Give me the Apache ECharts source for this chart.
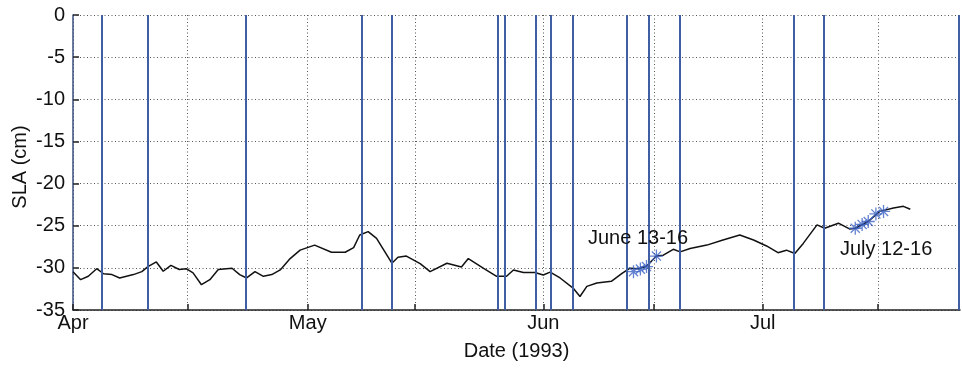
<!DOCTYPE html>
<html>
<head>
<meta charset="utf-8">
<script src="https://cdn.jsdelivr.net/npm/echarts@6/dist/echarts.min.js"></script>
<style>
html,body{margin:0;padding:0;background:#fff;}
#chart{width:962px;height:368px;}
</style>
</head>
<body>
<div id="chart"></div>
<script>
// x = days since 1 April 1993
const tickDays = [0, 15, 30.7, 44.7, 61.5, 76, 90.2, 105.3];
const tickLabels = ['Apr', '', 'May', '', 'Jun', '', 'Jul', ''];
const yTicks = [0, -5, -10, -15, -20, -25, -30, -35];

const slaDays = [0.0,1.0,2.0,3.1,4.0,5.1,6.1,7.0,7.9,9.0,9.8,10.9,11.8,12.8,13.9,14.8,15.7,16.8,17.9,19.0,20.8,21.8,22.7,23.8,24.9,26.0,27.1,28.4,29.7,31.6,33.8,35.6,36.7,37.5,38.6,39.7,41.7,42.5,43.6,45.4,46.7,48.9,50.8,51.7,53.7,55.4,56.7,57.6,58.9,60.4,61.5,62.4,63.7,65.4,66.3,67.2,68.5,70.4,71.8,72.8,74.0,75.0,76.3,77.2,78.5,79.4,80.7,82.9,85.0,87.2,89.0,90.7,92.2,93.3,94.4,95.5,97.3,98.3,100.1,101.6,102.3,104.0,105.5,107.3,108.6,109.5];
const slaValues = [-30.45,-31.4,-31.0,-30.1,-30.7,-30.8,-31.2,-31.0,-30.8,-30.45,-29.85,-29.3,-30.4,-29.7,-30.2,-30.1,-30.6,-32.0,-31.4,-30.2,-30.05,-30.8,-31.2,-30.45,-31.0,-30.8,-30.25,-28.9,-27.9,-27.3,-28.15,-28.15,-27.6,-26.1,-25.7,-26.5,-29.45,-28.75,-28.6,-29.5,-30.45,-29.45,-29.9,-28.9,-30.05,-31.0,-31.0,-30.25,-30.55,-30.55,-30.85,-30.5,-31.2,-32.4,-33.4,-32.2,-31.8,-31.6,-30.65,-30.05,-30.1,-29.8,-28.6,-28.5,-27.8,-28.1,-27.7,-27.3,-26.7,-26.1,-26.7,-27.4,-28.2,-27.9,-28.3,-27.1,-24.9,-25.3,-24.7,-25.4,-25.3,-24.5,-23.3,-22.9,-22.7,-23.05];

const juneDays = [73.3, 74.2, 75.0, 76.3];
const juneValues = [-30.45, -30.15, -29.85, -28.6];
const julyDays = [102.3, 103.2, 104.0, 105.0, 106.0];
const julyValues = [-25.3, -24.85, -24.5, -23.6, -23.3];

const eventDays = [3.8, 9.8, 22.6, 37.7, 41.7, 55.6, 56.5, 60.5, 62.5, 65.4, 72.4, 75.3, 79.4, 94.3, 98.2, 115.8];

const FONT = "'Liberation Sans', Arial, sans-serif";
const BLUE = '#3f5ea3';
const STAR = 'path://M-10,-1L10,-1L10,1L-10,1ZM-1,-10L1,-10L1,10L-1,10ZM-6.3,-7.7L7.7,6.3L6.3,7.7L-7.7,-6.3ZM-7.7,6.3L6.3,-7.7L7.7,-6.3L-6.3,7.7Z';

const zip = (a, b) => a.map((v, i) => [v, b[i]]);

const chart = echarts.init(document.getElementById('chart'), null, {renderer: 'canvas'});
chart.setOption({
  animation: false,
  backgroundColor: '#fff',
  grid: {left: 73, right: 2, top: 15, bottom: 58, containLabel: false},
  xAxis: {
    type: 'value', min: 0, max: 116,
    name: 'Date (1993)', nameLocation: 'middle', nameGap: 31,
    nameTextStyle: {fontFamily: FONT, fontSize: 20, color: '#111'},
    axisLine: {show: true, onZero: false, lineStyle: {color: '#222', width: 1.5}},
    axisTick: {show: true, inside: true, length: 6, customValues: tickDays, lineStyle: {color: '#222', width: 1.5}},
    axisLabel: {
      customValues: tickDays, margin: 3, fontFamily: FONT, fontSize: 20, color: '#111',
      formatter: v => { const i = tickDays.indexOf(v); return i >= 0 ? tickLabels[i] : ''; }
    },
    splitLine: {show: true, lineStyle: {color: '#555', width: 1, type: [1, 2.5]}}
  },
  yAxis: {
    type: 'value', min: -35, max: 0, interval: 5,
    axisLine: {show: true, onZero: false, lineStyle: {color: '#3a4f80', width: 1.5}},
    axisTick: {show: true, inside: true, length: 6, lineStyle: {color: '#222', width: 1.5}},
    axisLabel: {
      margin: 8, fontFamily: FONT, fontSize: 20, color: '#111',
      formatter: v => (yTicks.indexOf(v) >= 0 ? String(v) : '')
    },
    splitLine: {show: true, lineStyle: {color: '#555', width: 1, type: [1, 2.5]}}
  },
  series: [
    {
      type: 'line', data: [], silent: true, z: 1,
      markLine: {
        silent: true, symbol: ['none', 'none'], animation: false,
        label: {show: false},
        lineStyle: {color: BLUE, width: 2, type: 'solid'},
        data: eventDays.map(d => ({xAxis: d}))
      }
    },
    {
      type: 'line', data: zip(slaDays, slaValues), showSymbol: false, z: 3,
      lineStyle: {color: '#111', width: 1.5}
    },
    {
      type: 'scatter', data: zip(juneDays, juneValues), symbol: STAR, symbolSize: 13, z: 4,
      itemStyle: {color: '#3b62c4'}
    },
    {
      type: 'scatter', data: zip(julyDays, julyValues), symbol: STAR, symbolSize: 13, z: 4,
      itemStyle: {color: '#3b62c4'}
    }
  ],
  graphic: [
    {type: 'text', x: 20, y: 167, rotation: Math.PI / 2, style: {text: 'SLA (cm)', font: "20px 'Liberation Sans', Arial, sans-serif", fill: '#111', textAlign: 'center', textVerticalAlign: 'middle'}, z: 10},
    {type: 'text', x: 588, y: 238, style: {text: 'June 13-16', font: "20px 'Liberation Sans', Arial, sans-serif", fill: '#111', textVerticalAlign: 'middle'}, z: 10},
    {type: 'text', x: 840, y: 249, style: {text: 'July 12-16', font: "20px 'Liberation Sans', Arial, sans-serif", fill: '#111', textVerticalAlign: 'middle'}, z: 10}
  ]
});
</script>
</body>
</html>
